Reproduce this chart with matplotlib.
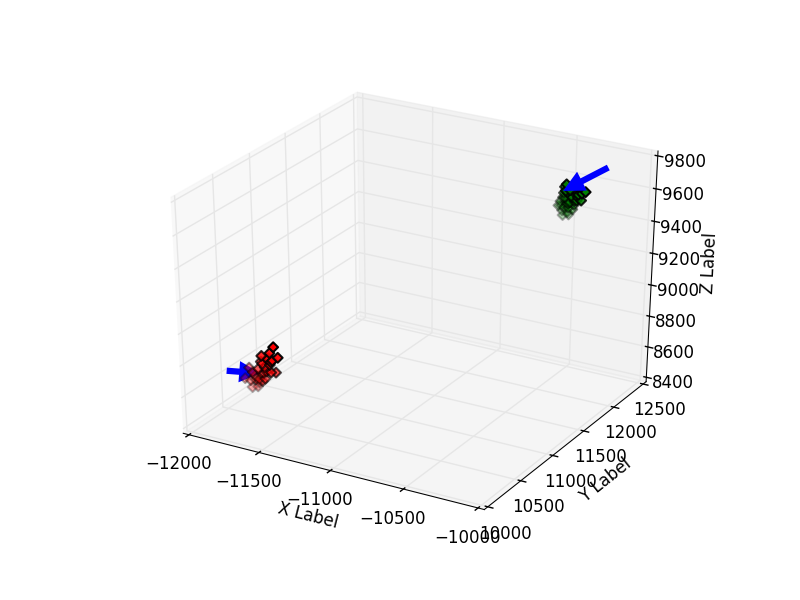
import numpy as np
import matplotlib
matplotlib.use('Agg')
import matplotlib.pyplot as plt
from matplotlib.patches import FancyArrowPatch
from mpl_toolkits.mplot3d import proj3d

plt.style.use('classic')

# red cluster
red_x = [-11854, -11927, -11818, -11896, -11859, -11943, -11911, -12036, -11859, -11922, -12000, -11839, -12057, -11948, -11984, -12005, -11974, -12010,
         -11875, -11900, -11850, -11930, -11880, -11955, -11900, -11940, -11905, -11985, -11960, -11925]
red_y = [10875, 10845, 10865, 10885, 10845, 10865, 10855, 10875, 10845, 10865, 10855, 10875, 10855, 10845, 10865, 10855, 10875, 10845,
         10860, 10870, 10850, 10860, 10870, 10850, 10860, 10870, 10850, 10860, 10870, 10850]
red_z = [8689, 8626, 8631, 8605, 8600, 8579, 8553, 8517, 8532, 8511, 8501, 8527, 8449, 8470, 8454, 8402, 8407, 8449,
         8650, 8605, 8610, 8570, 8570, 8535, 8525, 8500, 8480, 8480, 8440, 8460]

# green cluster
green_x = [-10387, -10367, -10397, -10272, -10332, -10252, -10382, -10302, -10418, -10362, -10272, -10327, -10427, -10382, -10337, -10367, -10393, -10362, -10402, -10372,
           -10350, -10310, -10375, -10295, -10345, -10290, -10320, -10400, -10345, -10375, -10410, -10355]
green_y = [12104, 12094, 12114, 12104, 12094, 12114, 12104, 12094, 12114, 12104, 12094, 12114, 12104, 12094, 12114, 12104, 12094, 12114, 12104, 12094,
           12100, 12110, 12090, 12100, 12110, 12090, 12100, 12110, 12090, 12100, 12110, 12090]
green_z = [9648, 9622, 9607, 9627, 9597, 9638, 9582, 9582, 9552, 9552, 9588, 9547, 9527, 9527, 9517, 9497, 9477, 9481, 9502, 9668,
           9635, 9610, 9630, 9600, 9600, 9620, 9575, 9580, 9565, 9555, 9530, 9530]

# arrows (start, end)
red_arrow_x = [-12195, -11925]
red_arrow_y = [10859, 10859]
red_arrow_z = [8467, 8507]
green_arrow_x = [-10105, -10415]
green_arrow_y = [12104, 12104]
green_arrow_z = [9815, 9610]

xticks = [-12000, -11500, -11000, -10500, -10000]
yticks = [10000, 10500, 11000, 11500, 12000, 12500]
zticks = [8400, 8600, 8800, 9000, 9200, 9400, 9600, 9800]


class Arrow3D(FancyArrowPatch):
    def __init__(self, xs, ys, zs, *args, **kwargs):
        FancyArrowPatch.__init__(self, (0, 0), (0, 0), *args, **kwargs)
        self._verts3d = xs, ys, zs

    def do_3d_projection(self, renderer=None):
        xs, ys, zs = proj3d.proj_transform(*self._verts3d, self.axes.M)
        self.set_positions((xs[0], ys[0]), (xs[1], ys[1]))
        return np.min(zs)


fig = plt.figure(figsize=(8, 6))
ax = fig.add_subplot(111, projection='3d', computed_zorder=False)
# old mplot3d stretched the unit cube to fill the whole subplot
ax.apply_aspect = lambda position=None: None
ax.set_box_aspect((1, 1, 1), zoom=0.9425)

ax.add_artist(Arrow3D(red_arrow_x, red_arrow_y, red_arrow_z, mutation_scale=20, lw=4.5, arrowstyle='-|>', color='b',
                      capstyle='butt', joinstyle='miter', shrinkA=0, zorder=2))
ax.scatter(red_x, red_y, red_z, c='r', marker='D', s=25, linewidths=1.5, edgecolors='k', zorder=3)
ax.scatter(green_x, green_y, green_z, c='g', marker='D', s=25, linewidths=1.5, edgecolors='k', zorder=3)
ax.add_artist(Arrow3D(green_arrow_x, green_arrow_y, green_arrow_z, mutation_scale=20, lw=4.5, arrowstyle='-|>', color='b',
                      capstyle='butt', joinstyle='miter', shrinkA=0, zorder=4))

# panes reach a little past the limits, as in the old version
ax.set_xlim(-12000, -10000, view_margin=1/48)
ax.set_ylim(10000, 12500, view_margin=1/48)
ax.set_zlim(8400, 9800, view_margin=1/48)
ax.set_xticks(xticks)
ax.set_yticks(yticks)
ax.set_zticks(zticks)
ax.set_xticklabels(['\u221212000', '\u221211500', '\u221211000', '\u221210500', '\u221210000'])
ax.set_xlabel('X Label')
ax.set_ylabel('Y Label')
ax.set_zlabel('Z Label')

fig.savefig('out.png', dpi=100)
